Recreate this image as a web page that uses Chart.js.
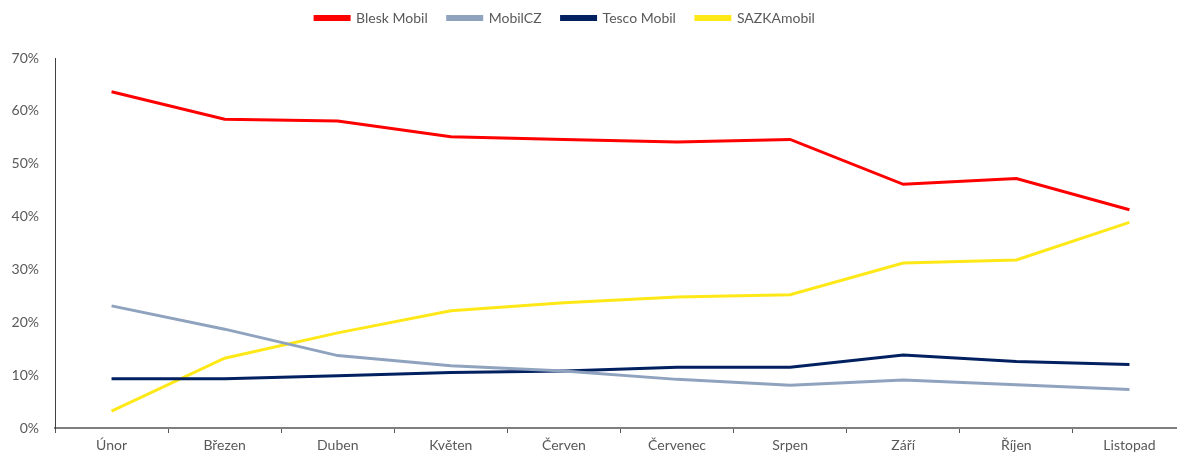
<!DOCTYPE html>
<html>
<head>
<meta charset="utf-8">
<script src="https://cdn.jsdelivr.net/npm/chart.js@4"></script>
<style>
  html, body { margin: 0; padding: 0; background: #fff; overflow: hidden; }
  #wrap { width: 1190px; height: 457px; position: relative; }
</style>
</head>
<body>
<div id="wrap"><canvas id="c"></canvas></div>
<script>
const categories = ['Únor','Březen','Duben','Květen','Červen','Červenec','Srpen','Září','Říjen','Listopad'];
const seriesNames = ['Blesk Mobil','MobilCZ','Tesco Mobil','SAZKAmobil'];
const bleskMobil = [63.6,58.4,58.1,55.1,54.6,54.1,54.6,46.1,47.2,41.3];
const mobilCZ    = [23.1,18.7,13.7,11.8,10.8,9.2,8.1,9.1,8.2,7.3];
const tescoMobil = [9.3,9.3,9.9,10.5,10.8,11.5,11.5,13.8,12.6,12.0];
const sazkaMobil = [3.2,13.2,18.0,22.2,23.7,24.8,25.2,31.2,31.8,38.9];
const yTicks = [0,10,20,30,40,50,60,70];

const colors = ['#FF0000','#8FA3BF','#002060','#FFE817'];
const textColor = '#595959';
const fontFamily = 'Lato, "Open Sans", sans-serif';

const mk = (i, data) => ({
  label: seriesNames[i], data,
  borderColor: colors[i], backgroundColor: colors[i],
  borderWidth: 3, pointRadius: 0, tension: 0, fill: false
});

const legendShift = {
  id: 'legendShift',
  afterUpdate(chart) {
    const l = chart.legend;
    if (l) { l.left -= 28; l.right -= 28; l.top -= 23; l.bottom -= 23; }
  }
};

new Chart(document.getElementById('c'), {
  type: 'line',
  data: {
    labels: categories,
    datasets: [mk(0, bleskMobil), mk(1, mobilCZ), mk(2, tescoMobil), mk(3, sazkaMobil)]
  },
  options: {
    responsive: true,
    maintainAspectRatio: false,
    animation: false,
    layout: { padding: { top: 14, right: 4, left: 0, bottom: 0 } },
    plugins: {
      tooltip: { enabled: false },
      legend: {
        position: 'top',
        labels: {
          boxWidth: 34, boxHeight: 3, padding: 20,
          color: textColor, font: { family: fontFamily, size: 14 }
        }
      }
    },
    scales: {
      x: {
        type: 'category',
        offset: true,
        grid: { offset: true, drawOnChartArea: false, tickLength: 5, color: '#595959', lineWidth: 1 },
        border: { display: true, color: '#7F7F7F', width: 2 },
        ticks: { color: textColor, font: { family: fontFamily, size: 14 }, padding: 4, maxRotation: 0 },
        afterFit: s => { s.height = 29; }
      },
      y: {
        min: 0, max: 70,
        afterBuildTicks: s => { s.ticks = yTicks.map(v => ({ value: v })); },
        grid: { display: true, drawOnChartArea: false, drawTicks: false },
        border: { display: true, color: '#404040', width: 1 },
        ticks: {
          color: textColor, font: { family: fontFamily, size: 14 }, padding: 16,
          callback: v => v + '%'
        },
        afterFit: s => { s.width = 55; }
      }
    }
  },
  plugins: [legendShift]
});
</script>
</body>
</html>
